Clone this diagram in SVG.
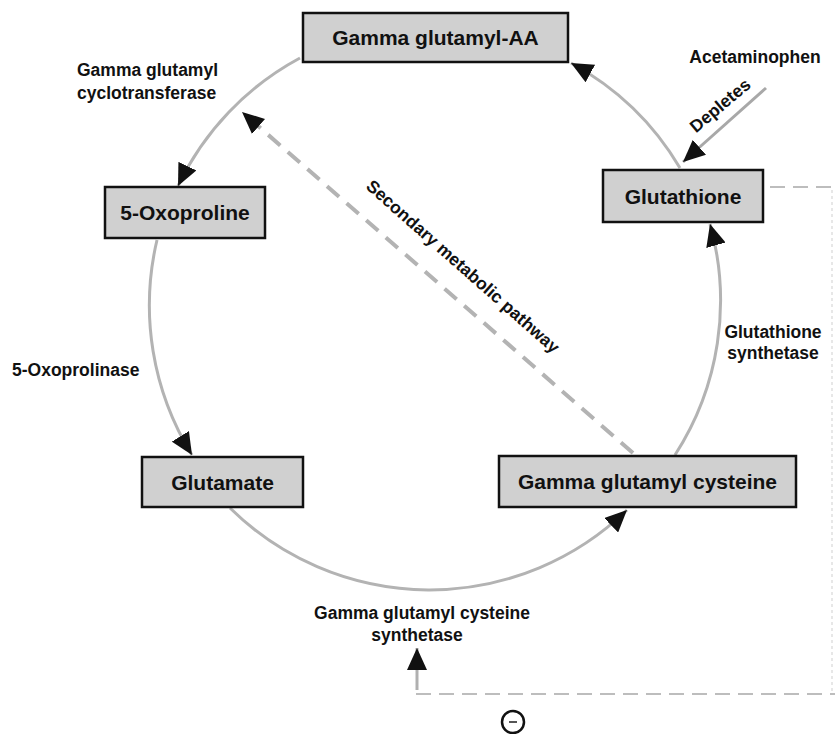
<svg xmlns="http://www.w3.org/2000/svg" width="835" height="734" viewBox="0 0 835 734">
<style>
.node rect{fill:#d0d0d0;stroke:#111;stroke-width:2.5}
.node text{font-family:"Liberation Sans",Arial,sans-serif;font-weight:bold;font-size:21px;fill:#111;text-anchor:middle}
.lbl{font-family:"Liberation Sans",Arial,sans-serif;font-weight:bold;font-size:17.5px;fill:#111}
.arc{fill:none;stroke:#b3b3b3;stroke-width:3}
.sec{fill:none;stroke:#b3b3b3;stroke-width:4;stroke-dasharray:16 10}
.ctl{fill:none;stroke:#bdbdbd;stroke-width:2;stroke-dasharray:15 8}
</style>
<defs>
<marker id="ah" markerUnits="userSpaceOnUse" markerWidth="22" markerHeight="20" viewBox="0 0 22 20" refX="22" refY="10" orient="auto">
<path d="M0,0 L22,10 L0,20 z" fill="#111"/>
</marker>
</defs>
<rect width="835" height="734" fill="#fff"/>
<g id="connectors">
<path class="arc" d="M300,58 A284,284 0 0 0 178,186" marker-end="url(#ah)"/>
<path class="arc" d="M157,240 A284,284 0 0 0 192,455" marker-end="url(#ah)"/>
<path class="arc" d="M230,508 A284,284 0 0 0 627,510" marker-end="url(#ah)"/>
<path class="arc" d="M675,455 A284,284 0 0 0 710,224" marker-end="url(#ah)"/>
<path class="arc" d="M680,168 A284,284 0 0 0 571,63" marker-end="url(#ah)"/>
<path class="sec" d="M633,453 L242,112" marker-end="url(#ah)"/>
<path d="M766,88 L683,162" fill="none" stroke="#a8a8a8" stroke-width="3" marker-end="url(#ah)"/>
<path d="M417,690 L417,648" fill="none" stroke="#b0b0b0" stroke-width="3" marker-end="url(#ah)"/>
<path class="ctl" d="M770,187 L835,187"/>
<path d="M832,190 L832,694" fill="none" stroke="#e0e0e0" stroke-width="1.5" stroke-dasharray="3 3"/>
<path class="ctl" d="M416,694 L835,694"/>
</g>
<g id="node-gamma-glutamyl-aa" class="node"><rect x="303" y="13" width="265" height="49"/><text x="435.5" y="45">Gamma glutamyl-AA</text></g>
<g id="node-glutathione" class="node"><rect x="603" y="170" width="160" height="52"/><text x="683" y="203.5">Glutathione</text></g>
<g id="node-5-oxoproline" class="node"><rect x="105" y="187" width="160" height="51"/><text x="185" y="220">5-Oxoproline</text></g>
<g id="node-glutamate" class="node"><rect x="142" y="457" width="161" height="50"/><text x="222.5" y="489.5">Glutamate</text></g>
<g id="node-gamma-glutamyl-cysteine" class="node"><rect x="499" y="456" width="297" height="51"/><text x="647.5" y="489">Gamma glutamyl cysteine</text></g>
<g id="labels">
<text class="lbl" x="77" y="76">Gamma glutamyl</text>
<text class="lbl" x="77" y="99">cyclotransferase</text>
<text class="lbl" x="755" y="63" text-anchor="middle">Acetaminophen</text>
<text class="lbl" x="0" y="0" text-anchor="middle" font-size="16.5" transform="translate(724,110) rotate(-40)">Depletes</text>
<text class="lbl" x="0" y="0" text-anchor="middle" font-size="20.5" transform="translate(459,271) rotate(41.5)">Secondary metabolic pathway</text>
<text class="lbl" x="12" y="376">5-Oxoprolinase</text>
<text class="lbl" x="773" y="338" text-anchor="middle">Glutathione</text>
<text class="lbl" x="773" y="359" text-anchor="middle">synthetase</text>
<text class="lbl" x="422" y="619" text-anchor="middle">Gamma glutamyl cysteine</text>
<text class="lbl" x="417" y="641" text-anchor="middle">synthetase</text>
</g>
<g id="inhibit">
<circle cx="513" cy="722" r="11" fill="none" stroke="#111" stroke-width="2.5"/>
<line x1="509" y1="722" x2="517" y2="722" stroke="#555" stroke-width="2"/>
</g>
</svg>
